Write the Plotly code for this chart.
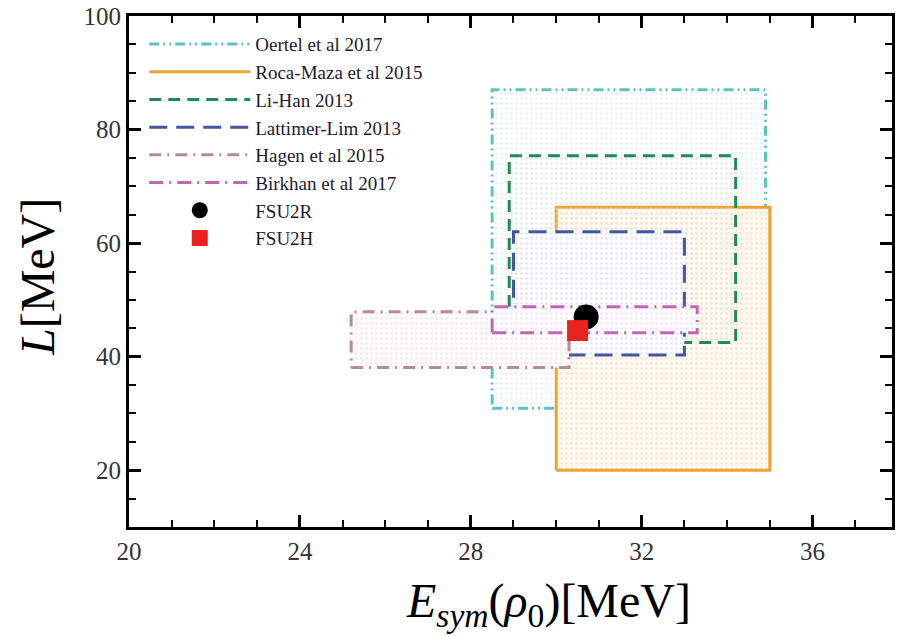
import plotly.graph_objects as go

# ---------------- data ----------------
band_names = ["Oertel et al 2017", "Roca-Maza et al 2015", "Li-Han 2013",
              "Lattimer-Lim 2013", "Hagen et al 2015", "Birkhan et al 2017"]
esym_min = [28.5, 30.0, 28.9, 29.0, 25.2, 28.5]
esym_max = [34.9, 35.0, 34.2, 33.0, 30.3, 33.3]
L_min = [30.9, 20.0, 42.5, 40.3, 38.1, 44.2]
L_max = [87.0, 66.3, 75.4, 62.0, 47.9, 48.8]

model_names = ["FSU2R", "FSU2H"]
model_esym = [30.7, 30.5]
model_L = [47.0, 44.6]

x_ticks = [20, 24, 28, 32, 36]
y_ticks = [20, 40, 60, 80, 100]

# ---------------- styles ----------------
line_colors = ["#5cc4bc", "#f2a22c", "#1f8a52", "#4456a0", "#b48c98", "#c266b4"]
line_dashes = ["10px,4px,2px,4px,2px,4px", "solid", "12px,7px", "18px,9px",
               "12px,6px,2px,6px", "14px,6px,2px,6px"]
pat_fg = ["#d6e2e2", "#f0d6b6", "#dbe2dd", "#c8cede", "#e8d2d8", "#e6d0e6"]
pat_bg = ["#ffffff", "#fdf8f0", "rgba(0,0,0,0)", "#fdfdff", "#fffcfc", "#fffcff"]

fig = go.Figure()

for i, name in enumerate(band_names):
    xs = [esym_min[i], esym_max[i], esym_max[i], esym_min[i], esym_min[i]]
    ys = [L_min[i], L_min[i], L_max[i], L_max[i], L_min[i]]
    fig.add_trace(go.Scatter(
        x=xs, y=ys, mode="none", fill="toself", showlegend=False, hoverinfo="skip",
        fillcolor=pat_bg[i],
        fillpattern=dict(shape=".", fgcolor=pat_fg[i], bgcolor=pat_bg[i],
                         size=5, solidity=0.22)))
    fig.add_trace(go.Scatter(
        x=xs, y=ys, mode="lines", name=name,
        line=dict(color=line_colors[i], dash=line_dashes[i], width=3)))

fig.add_trace(go.Scatter(x=[model_esym[0]], y=[model_L[0]], mode="markers", name=model_names[0],
                         marker=dict(symbol="circle", color="black", size=25)))
fig.add_trace(go.Scatter(x=[model_esym[1]], y=[model_L[1]], mode="markers", name=model_names[1],
                         marker=dict(symbol="square", color="#e8231f", size=21)))

tickfont = dict(family="Liberation Serif", size=25, color="#333333")
axis_common = dict(showline=True, linecolor="black", linewidth=3, mirror="allticks",
                   ticks="inside", ticklen=12, tickwidth=2.5, tickcolor="black",
                   showgrid=False, zeroline=False, tickfont=tickfont)

fig.update_xaxes(range=[20, 37.86], tickvals=x_ticks,
                 minor=dict(dtick=1, tick0=20, ticks="inside", ticklen=7, tickwidth=2,
                            tickcolor="black", showgrid=False),
                 **axis_common)
fig.update_yaxes(range=[10, 100], tickvals=y_ticks,
                 minor=dict(dtick=5, tick0=0, ticks="inside", ticklen=7, tickwidth=2,
                            tickcolor="black", showgrid=False),
                 **axis_common)

fig.update_layout(
    width=898, height=636,
    margin=dict(l=129, r=3, t=15, b=109),
    paper_bgcolor="white", plot_bgcolor="white",
    showlegend=True,
    legend=dict(x=0.02, y=0.982, xanchor="left", yanchor="top",
                bgcolor="rgba(0,0,0,0)", itemwidth=101,
                font=dict(family="Liberation Serif", size=19, color="#1c1c2c"),
                tracegroupgap=0),
    annotations=[
        dict(text="<i>L</i>[MeV]", xref="paper", yref="paper", x=-0.12, y=0.49,
             xanchor="center", yanchor="middle", textangle=-90, showarrow=False,
             font=dict(family="Liberation Serif", size=48, color="black")),
        dict(text="<i>E</i><sub><i>sym</i></sub>(<i>ρ</i><sub>0</sub>)[MeV]",
             xref="paper", yref="paper", x=0.55, y=-0.15,
             xanchor="center", yanchor="middle", showarrow=False,
             font=dict(family="Liberation Serif", size=48, color="black")),
    ],
)

fig.write_html("out.html")
